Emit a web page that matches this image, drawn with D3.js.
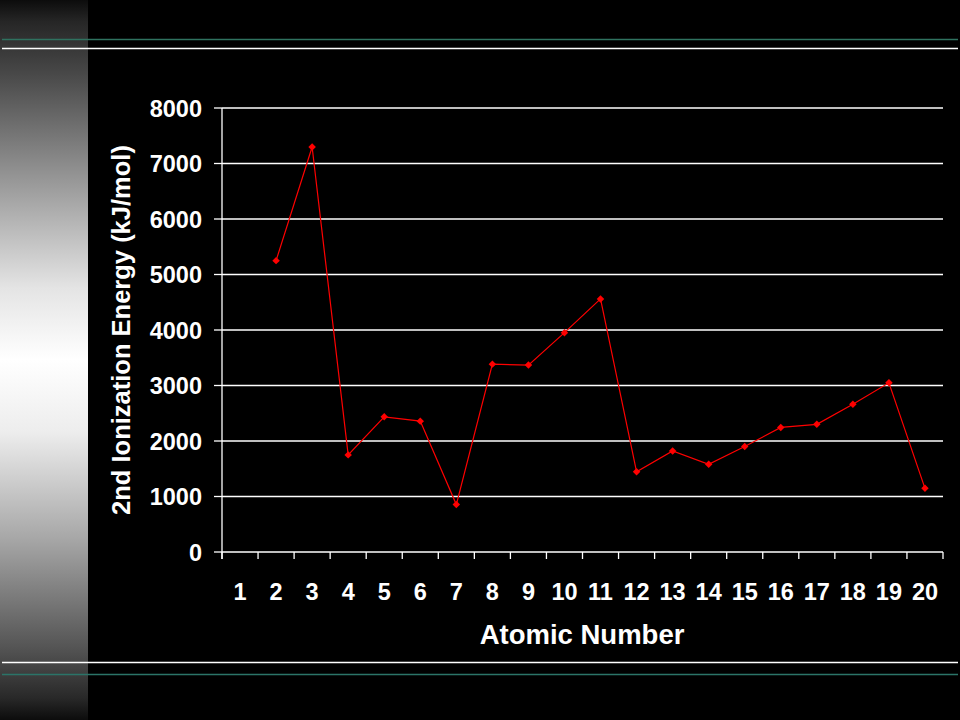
<!DOCTYPE html>
<html>
<head>
<meta charset="utf-8">
<script src="https://cdn.jsdelivr.net/npm/d3@7"></script>
<style>
  html, body { margin: 0; padding: 0; background: #000; }
  svg { display: block; }
  text { font-family: "Liberation Sans", Arial, sans-serif; font-weight: bold; fill: #fff; }
</style>
</head>
<body>
<svg id="chart" width="960" height="720"></svg>
<script>
// ---- data ----
const atomicNumbers = [1,2,3,4,5,6,7,8,9,10,11,12,13,14,15,16,17,18,19,20];
const secondIE = [null,5250,7298,1750,2435,2358,855,3385,3368,3952,4560,1445,1820,1580,1900,2245,2300,2662,3048,1147];
const yTicks = [0,1000,2000,3000,4000,5000,6000,7000,8000];
const xTitle = "Atomic Number";
const yTitle = "2nd Ionization Energy (kJ/mol)";

const svg = d3.select("#chart");
const W = 960, H = 720;
const plot = {left: 222, right: 943, top: 108, bottom: 552};

svg.append("rect").attr("width", W).attr("height", H).attr("fill", "#000");

// left gradient strip
const defs = svg.append("defs");
const grad = defs.append("linearGradient").attr("id", "strip").attr("x1", 0).attr("y1", 0).attr("x2", 0).attr("y2", 1);
[[0,"#0c0c0c"],[0.03,"#262626"],[0.1,"#474747"],[0.25,"#979797"],[0.4,"#e4e4e4"],[0.5,"#ffffff"],[0.6,"#ededed"],[0.75,"#a6a6a6"],[0.9,"#545454"],[0.97,"#282828"],[1,"#0c0c0c"]]
  .forEach(([o,c]) => grad.append("stop").attr("offset", o).attr("stop-color", c));
svg.append("rect").attr("x", 0).attr("y", 0).attr("width", 88).attr("height", H).attr("fill", "url(#strip)");

// decorative rules
const rules = [[39.5,"#2f725f"],[48.5,"#ffffff"],[662.5,"#ffffff"],[674.5,"#2b7468"]];
rules.forEach(([y,c]) => svg.append("line").attr("x1", 2).attr("x2", 958).attr("y1", y).attr("y2", y)
  .attr("stroke", c).attr("stroke-width", 1.3));

// scales
const x = d3.scaleBand().domain(atomicNumbers).range([plot.left, plot.right]).padding(0);
const y = d3.scaleLinear().domain([0, 8000]).range([plot.bottom, plot.top]);

// gridlines
svg.append("g").selectAll("line").data(yTicks.filter(t => t > 0)).join("line")
  .attr("x1", plot.left).attr("x2", plot.right)
  .attr("y1", d => y(d)).attr("y2", d => y(d))
  .attr("stroke", "#fff").attr("stroke-width", 1.5);

// y axis
const ga = svg.append("g");
ga.append("line").attr("x1", plot.left).attr("x2", plot.left).attr("y1", y(8000)).attr("y2", y(0) + 7)
  .attr("stroke", "#fff").attr("stroke-width", 1.3);
ga.selectAll("line.yt").data(yTicks).join("line").attr("class", "yt")
  .attr("x1", plot.left - 8).attr("x2", plot.left)
  .attr("y1", d => y(d)).attr("y2", d => y(d))
  .attr("stroke", "#fff").attr("stroke-width", 1.3);
ga.append("line").attr("x1", plot.left).attr("x2", plot.right).attr("y1", y(0)).attr("y2", y(0))
  .attr("stroke", "#fff").attr("stroke-width", 1.5);

// x ticks at band boundaries
const bounds = atomicNumbers.map(d => x(d)).concat([x(atomicNumbers[atomicNumbers.length-1]) + x.bandwidth()]);
ga.selectAll("line.xt").data(bounds).join("line").attr("class", "xt")
  .attr("x1", d => d).attr("x2", d => d).attr("y1", y(0)).attr("y2", y(0) + 7)
  .attr("stroke", "#fff").attr("stroke-width", 1.3);

// y tick labels
svg.append("g").selectAll("text").data(yTicks).join("text")
  .attr("x", 202).attr("y", d => y(d) + 8.5)
  .attr("text-anchor", "end").attr("font-size", 23.5)
  .text(d => d);

// x tick labels
svg.append("g").selectAll("text").data(atomicNumbers).join("text")
  .attr("x", d => x(d) + x.bandwidth()/2).attr("y", 600)
  .attr("text-anchor", "middle").attr("font-size", 23.5)
  .text(d => d);

// titles
svg.append("text").attr("x", 582).attr("y", 644).attr("text-anchor", "middle")
  .attr("font-size", 27.5)
  .text(xTitle);
svg.append("text").attr("transform", "translate(130,330) rotate(-90)").attr("text-anchor", "middle")
  .attr("font-size", 25.5)
  .text(yTitle);

// series
const pts = atomicNumbers.map((a, i) => ({a, v: secondIE[i]})).filter(d => d.v != null);
const line = d3.line().x(d => x(d.a) + x.bandwidth()/2).y(d => y(d.v));
svg.append("path").datum(pts).attr("d", line).attr("fill", "none")
  .attr("stroke", "#ff0000").attr("stroke-width", 1.2);
svg.append("g").selectAll("path").data(pts).join("path")
  .attr("d", d3.symbol(d3.symbolSquare, 28)())
  .attr("transform", d => `translate(${x(d.a) + x.bandwidth()/2},${y(d.v)}) rotate(45)`)
  .attr("fill", "#ff0000");
</script>
</body>
</html>
